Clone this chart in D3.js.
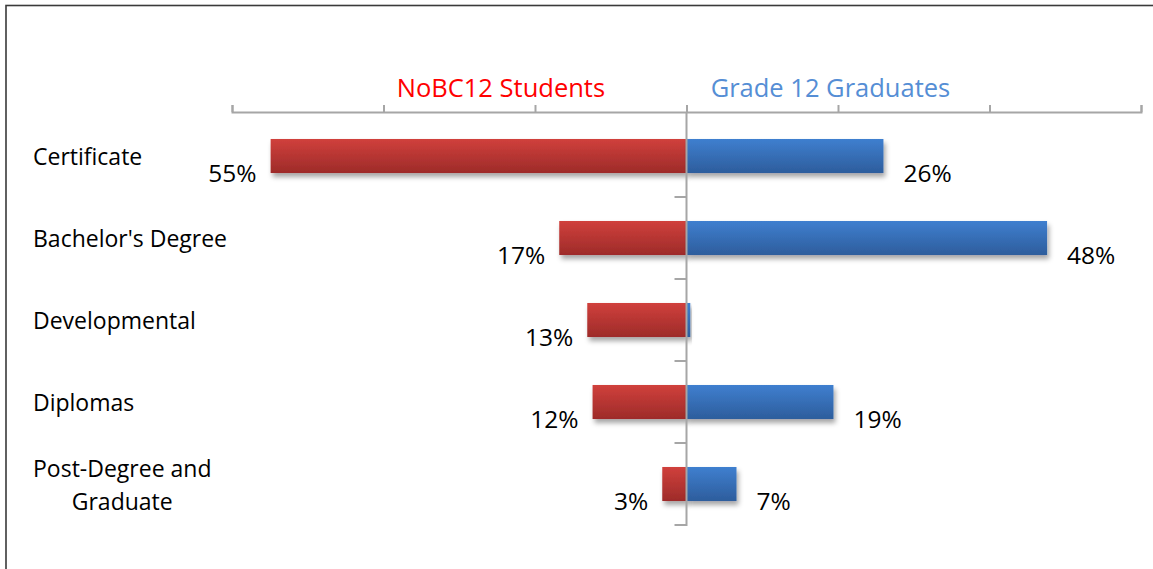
<!DOCTYPE html>
<html>
<head>
<meta charset="utf-8">
<script src="https://cdn.jsdelivr.net/npm/d3@7"></script>
<style>
  body{margin:0;background:#fff}
  svg{display:block;font-family:"Open Sans",sans-serif}
</style>
</head>
<body>
<div id="chart"></div>
<script>
const categories = ["Certificate","Bachelor's Degree","Developmental","Diplomas","Post-Degree and Graduate"]
const noBC12 = [54.9, 16.8, 13.1, 12.4, 3.2]
const grade12 = [26.0, 47.6, 0.5, 19.4, 6.6]
const xTicks = [-60,-40,-20,0,20,40,60]
const seriesNames = ["NoBC12 Students","Grade 12 Graduates"]

const width = 1153, height = 569

const svg = d3.select("#chart").append("svg").attr("width",width).attr("height",height)

// frame (right / bottom edges fall outside the picture)
svg.append("rect").attr("x",6).attr("y",5.5).attr("width",1160).attr("height",600)
  .attr("fill","none").attr("stroke","#3a3a3a").attr("stroke-width",1.6)

const defs = svg.append("defs")
function grad(id,top,bottom){
  const g = defs.append("linearGradient").attr("id",id).attr("x1",0).attr("x2",0).attr("y1",0).attr("y2",1)
  g.append("stop").attr("offset","0%").attr("stop-color",top)
  g.append("stop").attr("offset","100%").attr("stop-color",bottom)
}
grad("redGrad","#d0403c","#9d2b29")
grad("blueGrad","#3f7fcf","#2d5d9c")
defs.append("filter").attr("id","shadow").attr("x","-10%").attr("y","-20%").attr("width","130%").attr("height","180%")
  .append("feDropShadow").attr("dx",2).attr("dy",4).attr("stdDeviation",2.5)
  .attr("flood-color","#000").attr("flood-opacity",0.35)

const x = d3.scaleLinear().domain([-60,60]).range([232,1141])
const y = d3.scaleBand().domain(categories).range([115,525]).paddingInner(0.585).paddingOuter(0.2925)
const yStep = d3.scaleBand().domain(categories).range([115,525])

const rows = categories.map((c,i) => ({cat:c, left:noBC12[i], right:grade12[i]}))

// top value axis
const axis = svg.append("g").attr("transform","translate(0,112)")
  .call(d3.axisTop(x).tickValues(xTicks).tickSize(7).tickFormat(""))
axis.selectAll("path").attr("stroke","#a6a6a6").attr("stroke-width",2)
axis.selectAll("line").attr("stroke","#a6a6a6").attr("stroke-width",2)

// series titles
svg.append("text").attr("x",x(-24.5)).attr("y",97).attr("text-anchor","middle")
  .attr("fill","#ff0000").attr("font-size","25.5px").text(seriesNames[0])
svg.append("text").attr("x",x(19)).attr("y",97).attr("text-anchor","middle")
  .attr("fill","#558ed5").attr("font-size","25.5px").text(seriesNames[1])

// bars
const bars = svg.append("g")
bars.selectAll(".red").data(rows).enter().append("rect").attr("class","red")
  .attr("x",d => x(-d.left)).attr("y",d => y(d.cat))
  .attr("width",d => x(0)-x(-d.left)).attr("height",y.bandwidth())
  .attr("fill","url(#redGrad)").attr("filter","url(#shadow)")
bars.selectAll(".blue").data(rows).enter().append("rect").attr("class","blue")
  .attr("x",x(0)).attr("y",d => y(d.cat))
  .attr("width",d => x(d.right)-x(0)).attr("height",y.bandwidth())
  .attr("fill","url(#blueGrad)").attr("filter","url(#shadow)")

// category axis at zero
const cAxis = svg.append("g")
cAxis.append("line").attr("x1",x(0)).attr("x2",x(0)).attr("y1",112).attr("y2",yStep.range()[1]+1)
  .attr("stroke","#a6a6a6").attr("stroke-width",2)
cAxis.selectAll(".ctick").data(categories).enter().append("line").attr("class","ctick")
  .attr("x1",x(0)-12).attr("x2",x(0))
  .attr("y1",d => yStep(d)+yStep.bandwidth()).attr("y2",d => yStep(d)+yStep.bandwidth())
  .attr("stroke","#a6a6a6").attr("stroke-width",2)

// value labels
const fmt = v => Math.round(v) + "%"
const labels = svg.append("g").attr("font-size","24.5px").attr("fill","#000")
labels.selectAll(".lred").data(rows).enter().append("text")
  .attr("x",d => x(-d.left)-14).attr("y",d => y(d.cat)+y.bandwidth()+9)
  .attr("text-anchor","end").text(d => fmt(d.left))
labels.selectAll(".lblue").data(rows.filter(d => d.right >= 1)).enter().append("text")
  .attr("x",d => x(d.right)+20).attr("y",d => y(d.cat)+y.bandwidth()+9)
  .text(d => fmt(d.right))

// category labels, wrapped when too long
const catG = svg.append("g").attr("font-size","23px").attr("fill","#000")
const lineH = 33, labelX = 33, maxW = 215
categories.forEach(c => {
  const cy = y(c) + y.bandwidth()/2
  const t = catG.append("text").attr("x",labelX).attr("y",cy+9).text(c)
  if(t.node().getComputedTextLength() <= maxW) return
  t.remove()
  const words = c.split(" ")
  const lines = []
  let cur = []
  words.forEach(w => {
    const probe = catG.append("text").text([...cur,w].join(" "))
    const wdt = probe.node().getComputedTextLength()
    probe.remove()
    if(wdt > maxW && cur.length){ lines.push(cur.join(" ")); cur = [w] } else cur.push(w)
  })
  lines.push(cur.join(" "))
  const widths = lines.map(l => {
    const p = catG.append("text").text(l); const w = p.node().getComputedTextLength(); p.remove(); return w
  })
  const mid = labelX + d3.max(widths)/2
  const top = cy + 9 - (lines.length-1)*lineH/2
  lines.forEach((l,k) => {
    catG.append("text").attr("x",mid).attr("y",top+k*lineH).attr("text-anchor","middle").text(l)
  })
})
</script>
</body>
</html>
